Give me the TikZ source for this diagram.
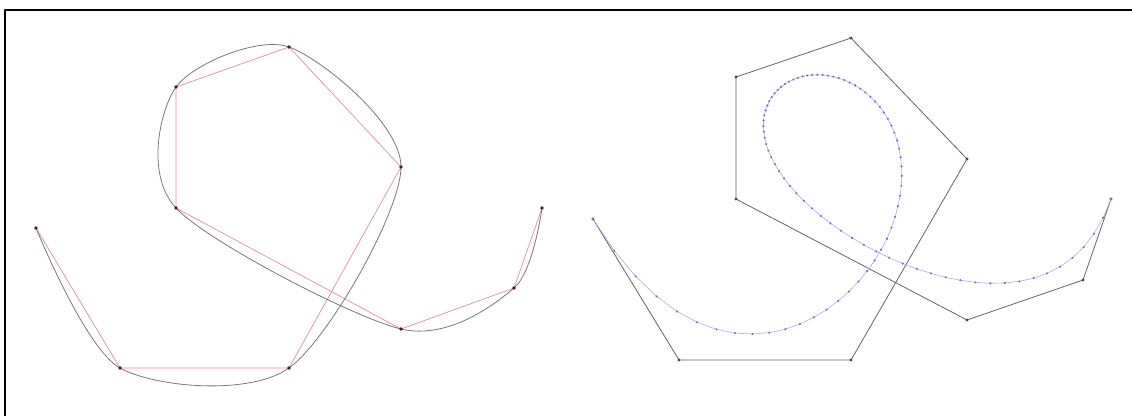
\documentclass[tikz,border=0pt]{standalone}
\definecolor{polyred}{RGB}{225,145,145}
\definecolor{curvegray}{RGB}{120,120,120}
\definecolor{knotdark}{RGB}{85,20,30}
\definecolor{ctrlgray}{RGB}{100,100,100}
\definecolor{splineblue}{RGB}{170,170,240}
\definecolor{splinedot}{RGB}{115,115,200}

\begin{document}
\begin{tikzpicture}[x=1pt,y=-1pt,line cap=round,line join=round,
    declare function={bez(\s,\a,\b,\c,\d,\e,\f)=(1-\s)^5*\a+5*(1-\s)^4*\s*\b
      +10*(1-\s)^3*\s^2*\c+10*(1-\s)^2*\s^3*\d+5*(1-\s)*\s^4*\e+\s^5*\f;}]
        \useasboundingbox (0,0) rectangle (1132,416);
        \draw[line width=2pt,line cap=butt] (5,416) -- (5,10) -- (1132,10);

        % interpolated points (left)
        \foreach \i/\x/\y in {0/36/228,1/120/368,2/289/368,3/401/167,4/289/47,
                              5/176/87,6/176/208,7/401/329,8/514/288,9/542/208} {
            \coordinate (k\i) at (\x,\y);
        }
        \draw[polyred,line width=0.7pt] (k0) \foreach \i in {1,...,9} { -- (k\i) };
        \draw[curvegray,line width=0.8pt]
            plot[smooth,tension=0.5] coordinates {
                (k0) (k1) (k2) (k3) (k4) (k5) (k6) (k7) (k8) (k9)
            };
        \foreach \i in {0,...,9} {
            \fill[knotdark] (k\i) circle (1.9pt);
        }

        % control polygon (right)
        \foreach \i/\x/\y in {0/593/219,1/679/360,2/851/360,3/967/159,4/851/38,
                              5/736/77,6/736/199,7/967/320,8/1083/280,9/1111/199} {
            \coordinate (c\i) at (\x,\y);
        }
        \draw[ctrlgray,line width=0.8pt] (c0) \foreach \i in {1,...,9} { -- (c\i) };
        \foreach \i in {0,...,9} {
            \fill[ctrlgray!70!black] (c\i) circle (1.6pt);
        }

        % quintic B-spline, one Bezier piece per knot span
        \tikzset{bspan/.style={splineblue,line width=0.6pt,
            mark=*,mark size=0.8pt,mark options={splinedot,draw=none}}}
        \draw[bspan] plot[variable=\t,domain=0:1,samples=21]
            ({bez(\t,593,679,765,827.33,866.56,886.96)},{bez(\t,219,360,360,326.5,282.38,238.61)});
        \draw[bspan] plot[variable=\t,domain=0:1,samples=21]
            ({bez(\t,886.96,907.35,908.93,895.97,876.48,855.2)},{bez(\t,238.61,194.84,151.43,119.36,97.7,85.38)});
        \draw[bspan] plot[variable=\t,domain=0:1,samples=21]
            ({bez(\t,855.2,833.92,810.83,790.67,774.83,767.36)},{bez(\t,85.38,73.06,70.07,75.31,87.5,105.6)});
        \draw[bspan] plot[variable=\t,domain=0:1,samples=21]
            ({bez(\t,767.36,759.89,760.78,774.06,806.36,852.22)},{bez(\t,105.6,123.73,147.75,176.65,209.63,237.93)});
        \draw[bspan] plot[variable=\t,domain=0:1,samples=21]
            ({bez(\t,852.22,898.08,957.5,1025,1083,1111)},{bez(\t,237.93,266.22,289.83,300,280,199)});
    \end{tikzpicture}
\end{document}
